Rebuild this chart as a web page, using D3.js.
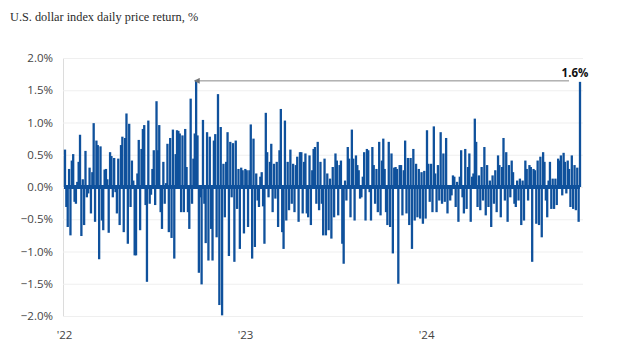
<!DOCTYPE html>
<html>
<head>
<meta charset="utf-8">
<script src="https://cdn.jsdelivr.net/npm/d3@7"></script>
<style>
  body { margin: 0; background: #fff; }
  svg { display: block; }
</style>
</head>
<body>
<svg id="chart"></svg>
<script>
// chart size
var width = 624;
var height = 351;

// daily returns (%) read left to right off the picture, Jan 2022 -> Nov 6 2024
var returns2022a = [0.58, -0.31, -0.62, 0.28, -0.75, 0.41, 0.51, -0.23, -0.26, 0.08, 0.39, 0.81, -0.76, 0.12, -0.59,
  0.56, -0.16, -0.10, 0.30, -0.41, 0.23, 0.99, -0.54, 0.72, 0.65, -1.12, 0.63, -0.52, -0.67, 0.27, 0.28, 0.12,
  -0.71, 0.54, 0.48, -0.16, 0.45, -0.08, -0.41, 0.44, -0.59, 0.65, 0.78, -0.70, 0.76, 1.14, -0.88, 0.98, -0.31,
  0.41, 0.10, -1.06, -1.06, 0.21, 0.73, -0.67, 0.59, 0.90, 0.96, -0.28, -1.47, 1.03, -0.26, -0.12, 0.28, 0.57,
  -0.28, 1.33, 0.57, 0.96, -0.39, -0.65, 0.39, -0.26, 0.06, 0.67, -0.70, 0.76, -0.79, 0.89, -1.11, 0.51, 0.88,
  0.87, 0.83, -0.39];
var returns2022b = [0.80, -0.39, 0.90, 0.31, -0.39, -0.65, 1.37, -0.26, 0.44, 0.83, 1.66, 0.80, -1.33, -0.16,
  -1.51, 1.04, -0.26, -0.87, 0.85, -1.14, 0.78, -0.65, -1.14, 0.72, 0.82, -0.78, 1.44, -1.83, 0.93, -1.99, 0.36,
  -0.47, 0.39, 0.85, -1.07, 0.70, -0.16, 0.68, -1.16, 0.72, -0.34, 0.28, -0.96, 0.30, 0.26, -0.72, 0.28, 0.26,
  -0.62, 0.26, 0.97, -1.11, 0.75, -0.93, 0.21, -0.21, -0.31, 0.16, 0.23, -0.30, -0.88, 1.15, 0.54, -0.16, 0.39,
  0.67, -0.39, 0.36, -0.18, 0.39, -0.62, 0.57, 1.21, -0.70, -0.96, 1.03, -0.52, 0.39, -0.36, 0.58, -0.26, 0.36,
  -0.39, 0.34, 0.47, -0.54, 0.54, 0.54, -0.41, 0.39];
var returns2023 = [0.52, -0.41, -0.47, 0.49, -0.59, 0.26, 0.59, 0.62, -0.26, 0.70, -0.36, 0.39, -0.26, -0.75,
  0.44, -0.75, 0.21, -0.67, 0.13, -0.80, 0.31, -0.47, 0.52, 0.41, -0.44, 0.34, 0.41, -0.88, -1.19, 0.10, -0.21,
  0.62, 0.44, -0.47, 0.89, 0.44, -0.52, 0.49, 0.34, 0.26, -0.18, -0.16, 0.16, 0.54, -0.52, 0.59, 0.57, -0.08,
  -0.52, 0.62, 0.34, -0.26, 0.28, -0.39, 0.70, -0.44, 0.41, 0.75, 0.28, -0.39, -0.59, 0.70, -0.62, 0.52, -1.03,
  0.30, 0.31, 0.28, -1.50, 0.34, 0.34, -0.44, 0.26, 0.72, -0.41, 0.45, -0.59, 0.45, -0.96, 0.59, -0.52, 0.36,
  -0.47, 0.28, -0.49];
var returns2024 = [0.23, -0.57, 0.25, -0.49, 0.88, 0.36, -0.23, 0.36, -0.39, 0.94, 0.21, -0.39, 0.34, -0.21,
  0.85, -0.26, 0.52, -0.23, 0.76, -0.41, 0.03, -0.21, -0.13, 0.18, 0.16, -0.31, 0.08, -0.54, 0.16, 0.57, -0.16,
  -0.41, 0.59, -0.34, 0.31, 0.52, -0.54, 0.16, 0.21, 1.06, 0.70, -0.31, 0.18, -0.36, 0.31, -0.21, 0.62, -0.44,
  0.34, -0.31, 0.10, -0.62, 0.18, -0.26, 0.26, -0.39, 0.49, 0.34, -0.47, 0.31, 0.76, -0.21, 0.54, -0.54, 0.34,
  -0.16, 0.41, 0.23, -0.26, -0.31, 0.10, -0.21, 0.13, -0.59, 0.10, -0.52, 0.41, 0.28, -0.21, 0.34, 0.31, -1.16,
  0.28, 0.26, -0.57, 0.41, -0.59, 0.47, -0.78, 0.54, 0.39, -0.21, -0.47, 0.10, 0.39, -0.34, 0.13, -0.34, 0.13,
  -0.28, 0.44, 0.41, 0.49, -0.13, 0.53, 0.39, -0.10, 0.41, 0.28, -0.31, 0.49, -0.34, 0.34, -0.36, 0.30, -0.54,
  1.63];

var yTicks = [2.0, 1.5, 1.0, 0.5, 0.0, -0.5, -1.0, -1.5, -2.0];
var yearTicks = ['2022-01-01', '2023-01-01', '2024-01-01'];
var firstDay = '2022-01-03';
var lastDay = '2024-11-06';
var title = 'U.S. dollar index daily price return, %';
var barColor = '#0f519c';

var returns = returns2022a.concat(returns2022b, returns2023, returns2024);
var parse = d3.timeParse('%Y-%m-%d');
var t0 = parse(firstDay), t1 = parse(lastDay);
var data = returns.map(function (v, i) {
  return { date: new Date(+t0 + i * (t1 - t0) / (returns.length - 1)), value: v };
});

var plotLeft = 63, plotRight = 583, plotTop = 58, plotBottom = 316;

var x = d3.scaleTime()
  .domain([parse('2022-01-01'), t1])
  .range([plotLeft + 1, 580]);

var y = d3.scaleLinear()
  .domain([-2, 2])
  .range([plotBottom, plotTop]);

var svg = d3.select('#chart')
  .attr('width', width)
  .attr('height', height)
  .style('font-family', '"Open Sans", "Liberation Sans", sans-serif');

svg.append('text')
  .attr('x', 10)
  .attr('y', 21)
  .attr('font-family', '"Liberation Serif", serif')
  .attr('font-size', 12.3)
  .attr('fill', '#2b2b2b')
  .text(title);

// grid
var yAxis = d3.axisLeft(y)
  .tickValues(yTicks)
  .tickSize(-(plotRight - plotLeft))
  .tickPadding(10)
  .tickFormat(function (d) { return d3.format('.1f')(d) + '%'; });

var gy = svg.append('g')
  .attr('transform', 'translate(' + plotLeft + ',0)')
  .call(yAxis);
gy.select('.domain').attr('stroke', '#dcdcdc');
gy.selectAll('.tick line').attr('stroke', '#efefef');
gy.selectAll('.tick text')
  .attr('font-size', 11.5)
  .attr('fill', '#444')
  .attr('font-family', '"Open Sans", sans-serif');

var xAxis = d3.axisBottom(x)
  .tickValues(yearTicks.map(parse))
  .tickSize(0)
  .tickPadding(15)
  .tickFormat(d3.timeFormat("'%y"));

var gx = svg.append('g')
  .attr('transform', 'translate(0,' + plotBottom + ')')
  .call(xAxis);
gx.select('.domain').remove();
gx.selectAll('.tick text')
  .attr('font-size', 11.5)
  .attr('fill', '#444')
  .attr('font-family', '"Open Sans", sans-serif');

// bars
var bw = 2.3;
svg.append('g')
  .selectAll('rect')
  .data(data)
  .join('rect')
    .attr('x', d => x(d.date) - bw / 2)
    .attr('y', d => y(Math.max(0, d.value)))
    .attr('width', bw)
    .attr('height', d => Math.abs(y(d.value) - y(0)))
    .attr('fill', barColor);

svg.append('line')
  .attr('x1', x(data[0].date) - 1)
  .attr('x2', x(data[data.length - 1].date))
  .attr('y1', y(0))
  .attr('y2', y(0))
  .attr('stroke', barColor)
  .attr('stroke-width', 4);

// annotation: arrow back to the previous biggest daily gain
var last = data[data.length - 1];
var prev = d3.greatest(data.slice(0, -1), d => d.value);
var ay = y(last.value) - 1;

svg.append('defs').append('marker')
  .attr('id', 'arrow')
  .attr('viewBox', '0 0 10 10')
  .attr('refX', 1)
  .attr('refY', 5)
  .attr('markerWidth', 6)
  .attr('markerHeight', 6)
  .attr('orient', 'auto-start-reverse')
  .append('path')
    .attr('d', 'M0,0L10,5L0,10z')
    .attr('fill', '#777');

svg.append('line')
  .attr('x1', x(last.date) - 11)
  .attr('x2', x(prev.date) + 3)
  .attr('y1', ay)
  .attr('y2', ay)
  .attr('stroke', '#888')
  .attr('stroke-width', 1)
  .attr('marker-end', 'url(#arrow)');

svg.append('text')
  .attr('x', x(last.date) - 5)
  .attr('y', 77)
  .attr('text-anchor', 'middle')
  .attr('font-size', 11.5)
  .attr('font-weight', 'bold')
  .attr('fill', '#111')
  .text(d3.format('.1f')(last.value) + '%');
</script>
</body>
</html>
